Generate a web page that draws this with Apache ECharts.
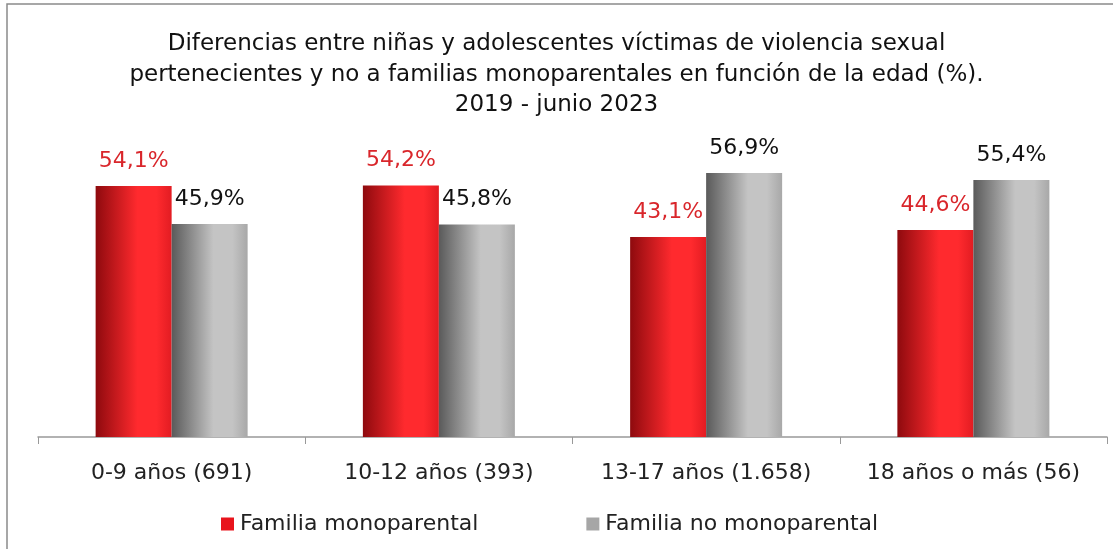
<!DOCTYPE html>
<html>
<head>
<meta charset="utf-8">
<script src="https://cdn.jsdelivr.net/npm/echarts@6/dist/echarts.min.js"></script>
<style>
  html, body { margin: 0; padding: 0; background: #fff; }
  #chart { width: 1113px; height: 549px; }
</style>
</head>
<body>
<div id="chart"></div>
<script>
// datos del grafico
const categorias = ['0-9 años (691)', '10-12 años (393)', '13-17 años (1.658)', '18 años o más (56)'];
const monoparental = [54.1, 54.2, 43.1, 44.6];
const noMonoparental = [45.9, 45.8, 56.9, 55.4];
const nombres = ['Familia monoparental', 'Familia no monoparental'];

const FONT = '"DejaVu Sans", sans-serif';

// degradado horizontal tipo cilindro
function degradado(oscuro, claro, borde) {
    return new echarts.graphic.LinearGradient(0, 0, 1, 0, [
        { offset: 0, color: oscuro },
        { offset: 0.55, color: claro },
        { offset: 0.8, color: claro },
        { offset: 1, color: borde }
    ]);
}

function etiqueta(p) {
    return p.value.toFixed(1).replace('.', ',') + '%';
}

const myChart = echarts.init(document.getElementById('chart'));

const option = {
    animation: false,
    title: {
        text: 'Diferencias entre niñas y adolescentes víctimas de violencia sexual\npertenecientes y no a familias monoparentales en función de la edad (%).\n2019 - junio 2023',
        left: 'center',
        top: 24,
        textStyle: { fontFamily: FONT, fontWeight: 'normal', fontSize: 23, lineHeight: 30.5, color: '#111' }
    },
    graphic: [{
        type: 'rect',
        shape: { x: 7, y: 4, width: 1120, height: 560 },
        style: { fill: 'none', stroke: '#8a8a8a', lineWidth: 1.5 },
        silent: true
    }],
    legend: {
        bottom: 9,
        left: 216,
        itemWidth: 13,
        itemHeight: 13,
        itemGap: 108,
        icon: 'rect',
        textStyle: { fontFamily: FONT, fontSize: 22, color: '#222', padding: [0, 0, 0, 1] },
        data: [
            { name: nombres[0], itemStyle: { color: '#e8141c' } },
            { name: nombres[1], itemStyle: { color: '#a6a6a6' } }
        ]
    },
    grid: { left: 38, right: 6, top: 158.6, bottom: 112 },
    xAxis: {
        type: 'category',
        data: categorias,
        axisLine: { lineStyle: { color: '#999', width: 1.5 } },
        axisTick: { show: true, interval: 0, length: 7, lineStyle: { color: '#999' } },
        axisLabel: { interval: 0, fontFamily: FONT, fontSize: 22, color: '#222', margin: 25 }
    },
    yAxis: {
        type: 'value',
        min: 0,
        max: 60,
        show: false,
        splitLine: { show: false }
    },
    series: [{
        name: nombres[0],
        type: 'bar',
        data: monoparental,
        barWidth: 76,
        barGap: '0%',
        itemStyle: { color: degradado('#8e0a0e', '#ff2a2e', '#e21c22') },
        label: {
            show: true,
            position: 'top',
            distance: 14,
            fontFamily: FONT,
            fontSize: 22,
            color: '#d9262b',
            formatter: etiqueta
        }
    }, {
        name: nombres[1],
        type: 'bar',
        data: noMonoparental,
        barWidth: 76,
        itemStyle: { color: degradado('#5a5a5a', '#c4c4c4', '#a8a8a8') },
        label: {
            show: true,
            position: 'top',
            distance: 14,
            fontFamily: FONT,
            fontSize: 22,
            color: '#111',
            formatter: etiqueta
        }
    }]
};

myChart.setOption(option);
</script>
</body>
</html>
